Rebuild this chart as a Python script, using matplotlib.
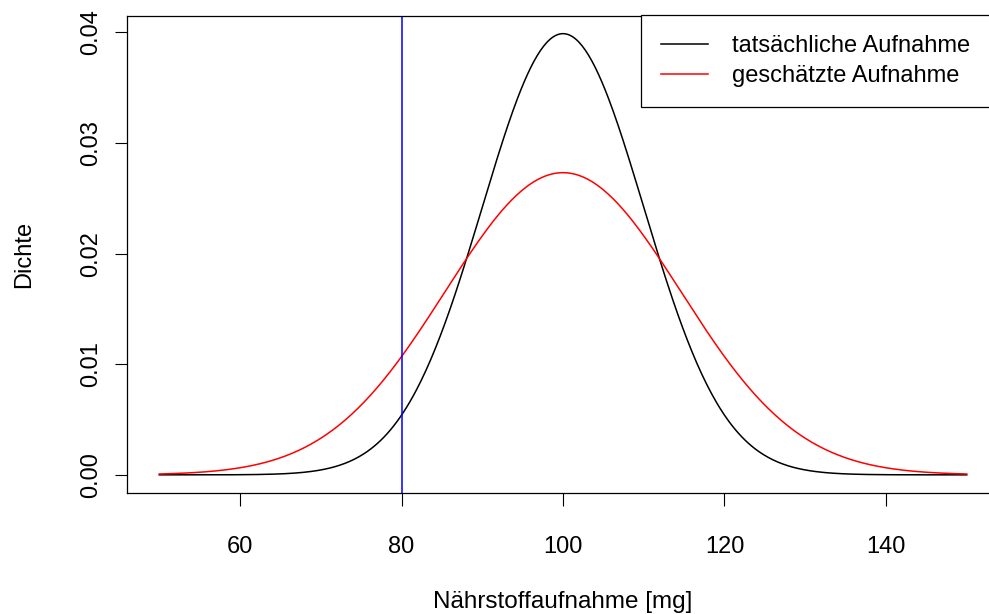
import numpy as np
import matplotlib
matplotlib.use("Agg")
import matplotlib.pyplot as plt

plt.rcParams['font.family'] = ['Liberation Sans', 'DejaVu Sans']

# Parameter der beiden Normalverteilungen
x_range = [50, 150]
mu_true, sd_true = 100, 10
mu_est, sd_est = 100, 14.6
cutoff = 80
legend_labels = ["tatsächliche Aufnahme", "geschätzte Aufnahme"]
x_ticks = [60, 80, 100, 120, 140]
y_ticks = [0.00, 0.01, 0.02, 0.03, 0.04]


def dnorm(x, mu, sd):
    return np.exp(-0.5 * ((x - mu) / sd) ** 2) / (sd * np.sqrt(2 * np.pi))


x = np.linspace(x_range[0], x_range[1], 501)
y_true = dnorm(x, mu_true, sd_true)
y_est = dnorm(x, mu_est, sd_est)

W, H = 989, 614
FS = 17
fig = plt.figure(figsize=(W / 100, H / 100), dpi=100)
ax = fig.add_axes([127 / W, 1 - 492.5 / H, (999 - 127) / W, (492.5 - 16) / H])

ax.plot(x, y_true, color="black", lw=1.1, label=legend_labels[0])
ax.plot(x, y_est, color="red", lw=1.1, label=legend_labels[1])
ax.axvline(cutoff, color="blue", lw=1.1)

ymax = y_true.max()
ax.set_xlim(46, 154)
ax.set_ylim(-0.04 * ymax, 1.04 * ymax)

ax.set_xticks(x_ticks)
ax.set_yticks(y_ticks)
ax.set_yticklabels([f"{v:.2f}" for v in y_ticks], rotation=90, va="center")
ax.tick_params(direction="out", length=9, width=0.8, labelsize=FS)
ax.tick_params(axis="x", pad=22)
ax.tick_params(axis="y", pad=9)
for s in ax.spines.values():
    s.set_linewidth(0.9)

ax.set_xlabel("Nährstoffaufnahme [mg]", fontsize=FS + 0.5, labelpad=24)
ax.set_ylabel("Dichte", fontsize=FS, labelpad=32)

leg = ax.legend(loc="upper right", bbox_to_anchor=(641 / W, 1 - 105 / H, 1.0, 90 / H),
                bbox_transform=fig.transFigure, mode="expand",
                fontsize=FS, fancybox=False, framealpha=1, edgecolor="black",
                borderaxespad=0, handlelength=2.0, handletextpad=1.0, borderpad=0.85,
                labelspacing=0.33)
leg.get_frame().set_linewidth(0.9)
leg.get_frame().set_boxstyle("square", pad=0)

fig.savefig("out.png", dpi=100)
